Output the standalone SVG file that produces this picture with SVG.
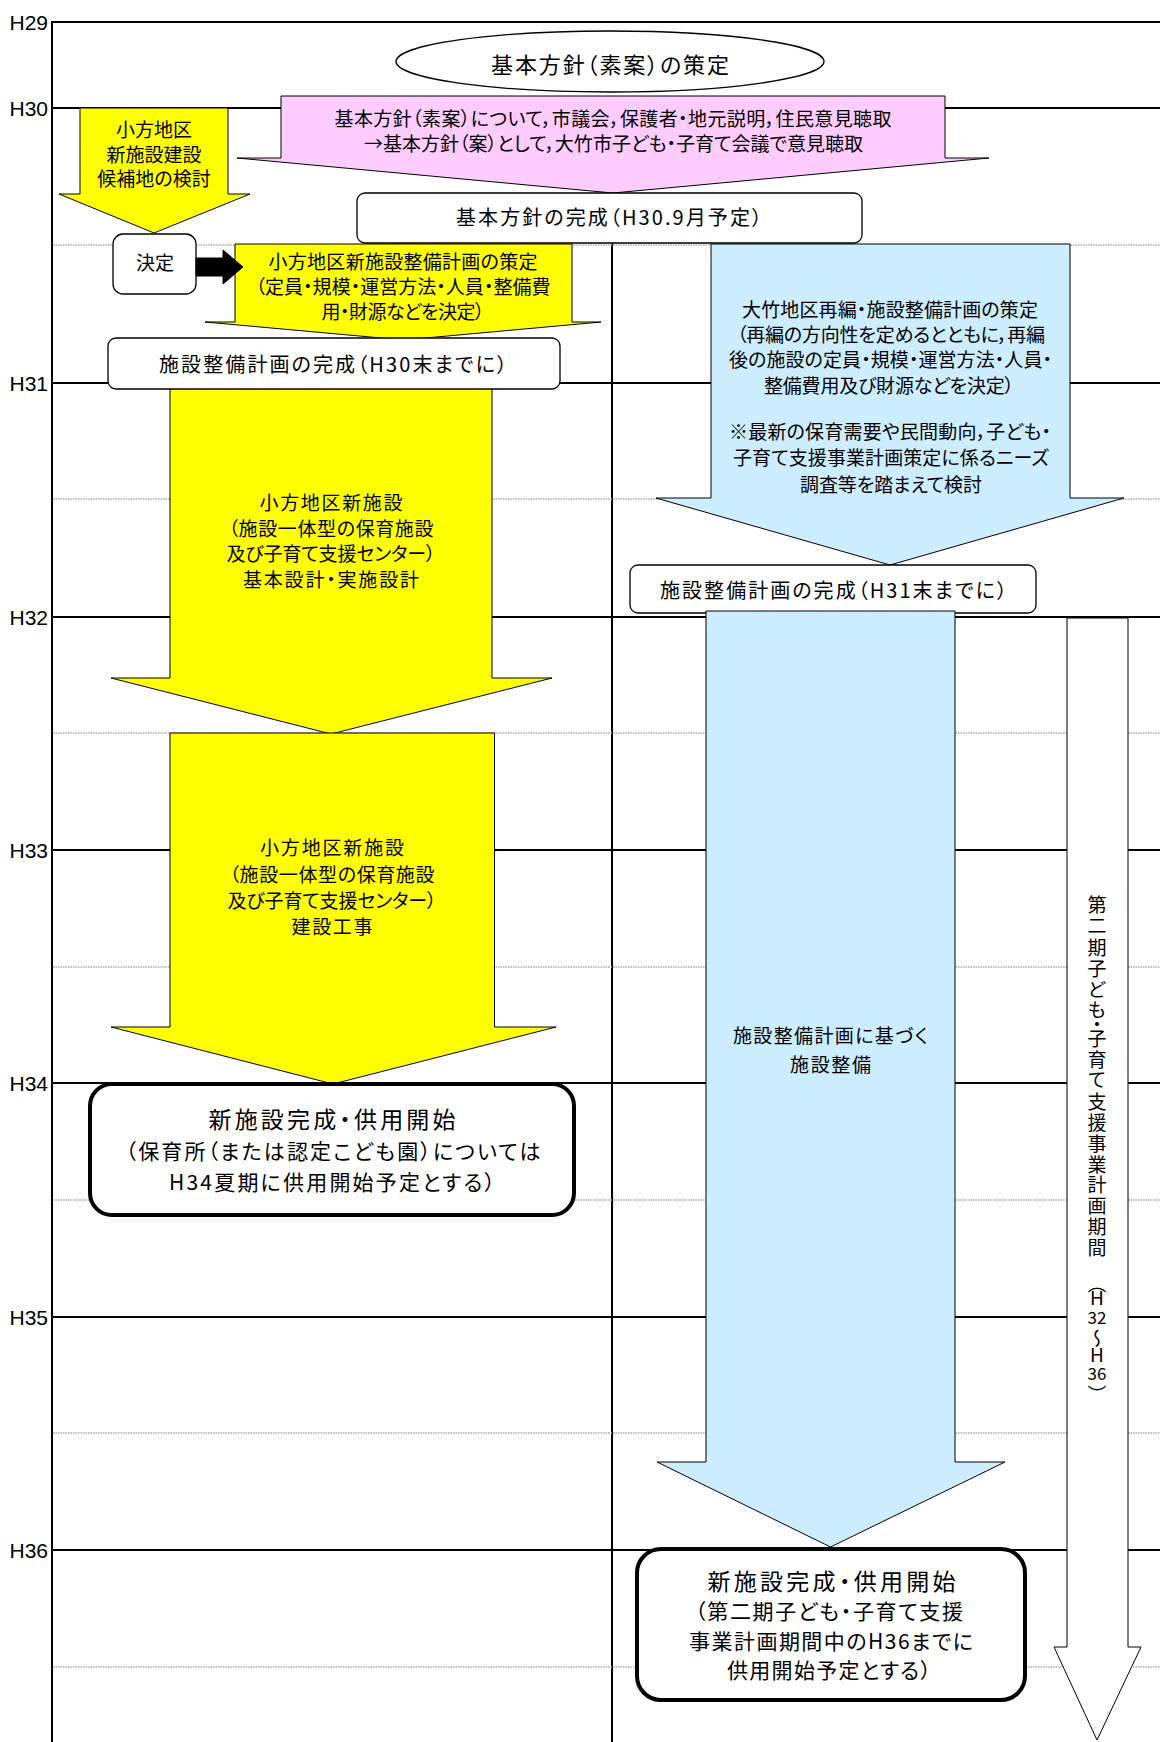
<svg xmlns="http://www.w3.org/2000/svg" width="1160" height="1742" viewBox="0 0 1160 1742">
<style>
.grid{stroke:#000;stroke-width:2;fill:none}
.dot{stroke:#a8a8a8;stroke-width:1.6;stroke-dasharray:1.5 1;fill:none}
.yel{fill:#FFFF00;stroke:#000;stroke-width:1}
.pink{fill:#FFCCFF;stroke:#000;stroke-width:1}
.blue{fill:#CCECFF;stroke:#000;stroke-width:1}
.wht{fill:#fff;stroke:#000;stroke-width:1}
.wbox{fill:#fff;stroke:#000;stroke-width:1.3}
.bold{fill:#fff;stroke:#000;stroke-width:4}
text{font-family:"Noto Sans CJK JP","Noto Sans CJK SC",sans-serif;fill:#000;text-anchor:middle;font-size:19px;font-feature-settings:"palt"}
.yr{font-family:"Liberation Sans",Arial,sans-serif;text-anchor:end;font-size:21px;font-feature-settings:normal}
.vt{writing-mode:vertical-rl;text-orientation:upright;font-feature-settings:normal}
.dg{font-size:17px;font-feature-settings:normal}
.s20{font-size:20px}
.s21{font-size:21px}
.s22{font-size:22px}
.s23{font-size:23px}
</style>
<g id="grid">
<line class="grid" x1="52" y1="22" x2="1160" y2="22"/>
<line class="grid" x1="52" y1="21" x2="52" y2="1742"/>
<line class="grid" x1="612" y1="243" x2="612" y2="1742"/>
<line class="grid" x1="52" y1="108" x2="1160" y2="108"/>
<line class="grid" x1="52" y1="383" x2="1160" y2="383"/>
<line class="grid" x1="52" y1="617" x2="1160" y2="617"/>
<line class="grid" x1="52" y1="850" x2="1160" y2="850"/>
<line class="grid" x1="52" y1="1083" x2="1160" y2="1083"/>
<line class="grid" x1="52" y1="1317" x2="1160" y2="1317"/>
<line class="grid" x1="52" y1="1550" x2="1160" y2="1550"/>
<line class="dot" x1="53" y1="245" x2="1160" y2="245"/>
<line class="dot" x1="53" y1="499" x2="1160" y2="499"/>
<line class="dot" x1="53" y1="733" x2="1160" y2="733"/>
<line class="dot" x1="53" y1="967" x2="1160" y2="967"/>
<line class="dot" x1="53" y1="1200" x2="1160" y2="1200"/>
<line class="dot" x1="53" y1="1433" x2="1160" y2="1433"/>
<line class="dot" x1="53" y1="1667" x2="1160" y2="1667"/>
<text class="yr" x="48" y="29.5">H29</text>
<text class="yr" x="48" y="115.5">H30</text>
<text class="yr" x="48" y="390.5">H31</text>
<text class="yr" x="48" y="624.5">H32</text>
<text class="yr" x="48" y="857.5">H33</text>
<text class="yr" x="48" y="1090.5">H34</text>
<text class="yr" x="48" y="1324.5">H35</text>
<text class="yr" x="48" y="1557.5">H36</text>
</g>
<g id="n_sakutei">
<ellipse class="wbox" cx="610" cy="61.5" rx="214" ry="30.5"/>
<text class="s22" x="610" y="73" textLength="238" lengthAdjust="spacing">基本方針（素案）の策定</text>
</g>
<g id="n_iken">
<path class="pink" d="M281,96 H945 V158 H989 L613,193 L237,158 H281 Z"/>
<text x="613" y="126" textLength="557" lengthAdjust="spacing">基本方針（素案）について，市議会，保護者・地元説明，住民意見聴取</text>
<text x="613.5" y="151" textLength="499" lengthAdjust="spacing">→基本方針（案）として，大竹市子ども・子育て会議で意見聴取</text>
</g>
<g id="n_kouhochi">
<path class="yel" d="M80,108 H228 V194 H250 L154,233 L59,194 H80 Z"/>
<text x="154" y="137">小方地区</text>
<text x="154" y="162">新施設建設</text>
<text x="154" y="186">候補地の検討</text>
</g>
<g id="n_kansei1">
<rect class="wbox" x="357" y="193" width="505" height="50" rx="8"/>
<text class="s20" x="609" y="224.5" textLength="306" lengthAdjust="spacing">基本方針の完成（H30.9月予定）</text>
</g>
<g id="n_keikaku_oogata">
<path class="yel" d="M235,244 H572 V322 H601 L403.5,340 L205,322 H235 Z"/>
<text x="403" y="269" textLength="269" lengthAdjust="spacing">小方地区新施設整備計画の策定</text>
<text x="403" y="294" textLength="295" lengthAdjust="spacing">（定員・規模・運営方法・人員・整備費</text>
<text x="403" y="319" textLength="163" lengthAdjust="spacing">用・財源などを決定）</text>
</g>
<g id="n_kettei">
<rect class="wbox" x="113" y="234" width="83" height="60" rx="10"/>
<text x="155" y="270">決定</text>
</g>
<g id="n_sekkei">
<path class="yel" d="M170,386 H492 V678 H552 L331,734 L111,678 H170 Z"/>
<text x="331" y="510" textLength="143" lengthAdjust="spacing">小方地区新施設</text>
<text x="331" y="536" textLength="205" lengthAdjust="spacing">（施設一体型の保育施設</text>
<text x="331" y="561" textLength="209" lengthAdjust="spacing">及び子育て支援センター）</text>
<text x="331" y="587" textLength="176" lengthAdjust="spacing">基本設計・実施設計</text>
</g>
<g id="n_kansei_h30">
<rect class="wbox" x="108" y="338" width="452" height="51" rx="8"/>
<text class="s20" x="333" y="371.5" textLength="348" lengthAdjust="spacing">施設整備計画の完成（H30末までに）</text>
</g>
<g id="n_kouji">
<path class="yel" d="M170,733 H494.5 V1027 H556 L333,1084 L111,1027 H170 Z"/>
<text x="332" y="855" textLength="144" lengthAdjust="spacing">小方地区新施設</text>
<text x="332" y="881.5" textLength="205" lengthAdjust="spacing">（施設一体型の保育施設</text>
<text x="332" y="907.5" textLength="209" lengthAdjust="spacing">及び子育て支援センター）</text>
<text x="332" y="933.5" textLength="81" lengthAdjust="spacing">建設工事</text>
</g>
<g id="n_kaishi1">
<rect class="bold" x="90" y="1084" width="484" height="131" rx="22"/>
<text class="s23" x="332" y="1128" textLength="247" lengthAdjust="spacing">新施設完成・供用開始</text>
<text class="s21" x="333" y="1159" textLength="415" lengthAdjust="spacing">（保育所（または認定こども園）については</text>
<text class="s21" x="332" y="1190" textLength="326" lengthAdjust="spacing">H34夏期に供用開始予定とする）</text>
</g>
<g id="n_keikaku_ootake">
<path class="blue" d="M711,244 H1070 V498 H1124 L890,565 L656,498 H711 Z"/>
<text x="890" y="317" textLength="296" lengthAdjust="spacing">大竹地区再編・施設整備計画の策定</text>
<text x="891" y="341.5" textLength="308" lengthAdjust="spacing">（再編の方向性を定めるとともに，再編</text>
<text x="890.5" y="367" textLength="323" lengthAdjust="spacing">後の施設の定員・規模・運営方法・人員・</text>
<text x="889" y="392.5" textLength="250" lengthAdjust="spacing">整備費用及び財源などを決定）</text>
<text x="890" y="439" textLength="322" lengthAdjust="spacing">※最新の保育需要や民間動向，子ども・</text>
<text x="891" y="465" textLength="316" lengthAdjust="spacing">子育て支援事業計画策定に係るニーズ</text>
<text x="891" y="491.5" textLength="182" lengthAdjust="spacing">調査等を踏まえて検討</text>
</g>
<g id="n_kansei_h31">
<rect class="wbox" x="630" y="565" width="406" height="48" rx="8"/>
<text class="s20" x="833.5" y="597.5" textLength="347" lengthAdjust="spacing">施設整備計画の完成（H31末までに）</text>
</g>
<g id="n_seibi">
<path class="blue" d="M706,611 H955 V1462 H1005 L830.5,1547 L657,1462 H706 Z"/>
<text x="830.5" y="1043" textLength="195" lengthAdjust="spacing">施設整備計画に基づく</text>
<text x="830.5" y="1072" textLength="81" lengthAdjust="spacing">施設整備</text>
</g>
<g id="n_kikan">
<path class="wht" d="M1067,618 H1128 V1647 H1141 L1097,1740 L1054,1647 H1067 Z"/>
<text class="vt" x="1097" y="905 926 948 969 990 1010 1025 1039 1060 1080 1102 1123 1144 1165 1185 1206 1227 1248 1284 1298">第二期子ども・子育て支援事業計画期間（H</text>
<text class="dg" x="1097" y="1323.5">32</text>
<text class="vt" x="1097" y="1339 1355">～H</text>
<text class="dg" x="1097" y="1380">36</text>
<text class="vt" x="1097" y="1395">）</text>
</g>
<g id="n_kaishi2">
<rect class="bold" x="637" y="1549" width="388" height="151" rx="24"/>
<text class="s23" x="831.5" y="1590" textLength="248" lengthAdjust="spacing">新施設完成・供用開始</text>
<text class="s21" x="829" y="1619" textLength="268" lengthAdjust="spacing">（第二期子ども・子育て支援</text>
<text class="s21" x="831" y="1648.5" textLength="284" lengthAdjust="spacing">事業計画期間中のH36までに</text>
<text class="s21" x="829" y="1677.5" textLength="204" lengthAdjust="spacing">供用開始予定とする）</text>
</g>
<g id="connectors">
<path d="M196,258 H223 V250 L243,267 L223,284 V276 H196 Z" fill="#000" stroke="#000" stroke-width="1"/>
</g>
</svg>
